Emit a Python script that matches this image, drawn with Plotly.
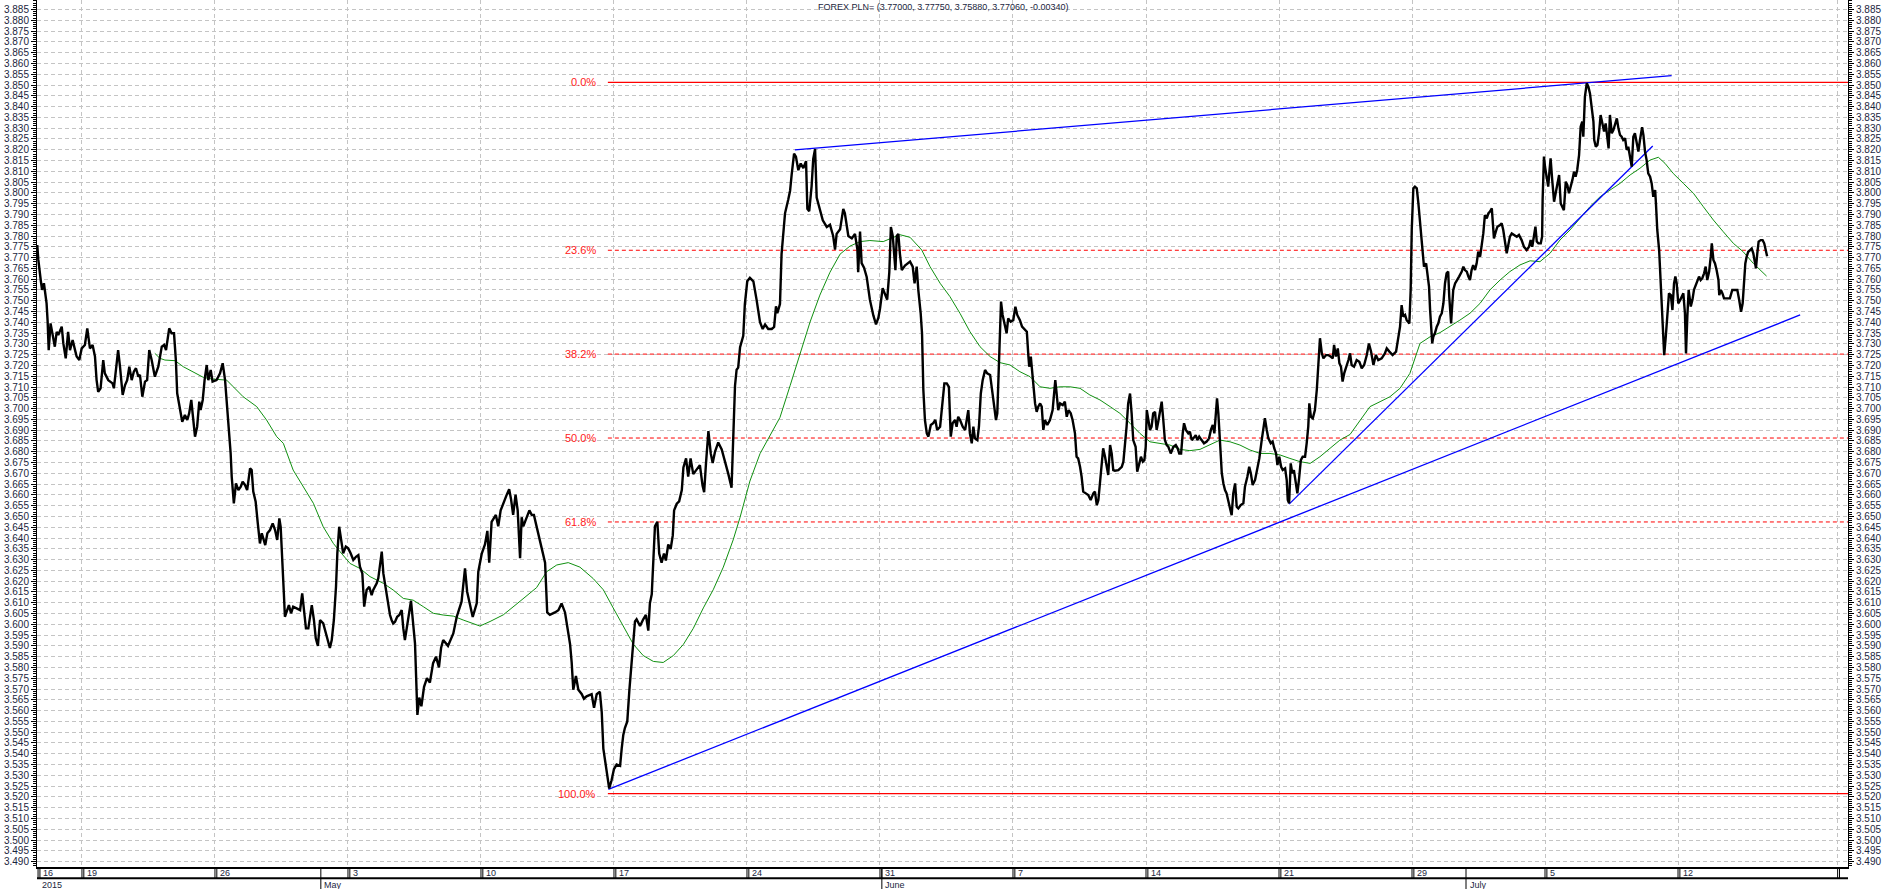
import plotly.graph_objects as go

# ---------------- data (x in trading days from the Apr-19 week start) ----------------
price_day = [
-1.68,-1.64,-1.55,-1.50,-1.43,-1.39,-1.33,-1.29,-1.25,-1.18,-1.10,-1.02,-0.95,-0.89,-0.76,-0.70,-0.61,-0.52,-0.45,-0.35,
-0.26,-0.20,-0.10,-0.01,0.11,0.20,0.30,0.40,0.49,0.55,0.61,0.70,0.80,0.86,0.99,1.15,1.20,1.28,1.36,1.43,
1.53,1.62,1.70,1.78,1.87,1.95,2.03,2.12,2.18,2.27,2.37,2.45,2.53,2.62,2.74,2.87,3.00,3.09,3.16,3.28,
3.37,3.46,3.53,3.58,3.68,3.77,3.87,3.96,4.03,4.11,4.16,4.25,4.33,4.41,4.46,4.54,4.61,4.69,4.75,4.84,
4.91,5.06,5.19,5.29,5.38,5.44,5.50,5.54,5.59,5.63,5.71,5.79,5.88,5.97,6.04,6.13,6.21,6.32,6.38,6.44,
6.53,6.61,6.69,6.76,6.82,6.89,6.97,7.07,7.17,7.26,7.34,7.42,7.47,7.55,7.59,7.63,7.70,7.78,7.86,7.94,
8.07,8.20,8.28,8.35,8.42,8.51,8.64,8.72,8.79,8.87,8.95,9.07,9.17,9.32,9.39,9.47,9.55,9.60,9.67,9.76,
9.82,9.92,10.01,10.10,10.20,10.30,10.39,10.45,10.54,10.61,10.70,10.80,10.89,10.95,11.08,11.14,11.20,11.27,11.33,11.43,
11.52,11.58,11.64,11.70,11.77,11.85,11.93,12.02,12.08,12.14,12.37,12.45,12.52,12.61,12.68,12.76,12.86,12.97,13.08,13.20,
13.31,13.42,13.50,13.58,13.76,13.96,14.09,14.27,14.40,14.48,14.59,14.69,14.84,14.90,15.03,15.15,15.24,15.31,15.40,15.56,
15.65,15.74,15.97,16.06,16.13,16.21,16.30,16.38,16.47,16.53,16.59,16.72,16.82,16.91,16.99,17.09,17.24,17.41,17.49,17.59,
17.78,17.91,18.03,18.16,18.24,18.35,18.41,18.47,18.57,18.66,18.79,18.87,18.97,19.16,19.25,19.35,19.47,19.54,19.60,19.70,
19.75,19.82,19.91,20.00,20.10,20.23,20.29,20.35,20.41,20.50,20.58,20.67,20.73,20.79,20.85,20.98,21.10,21.20,21.29,21.35,
21.42,21.48,21.54,21.63,21.70,21.79,21.88,21.95,22.04,22.13,22.21,22.26,22.36,22.45,22.55,22.61,22.71,22.79,22.88,22.98,
23.11,23.23,23.33,23.39,23.46,23.55,23.64,23.71,23.80,23.92,24.05,24.17,24.30,24.42,24.48,24.55,24.61,24.67,24.74,24.80,
24.86,24.92,25.01,25.11,25.24,25.36,25.49,25.59,25.68,25.80,25.93,26.02,26.09,26.14,26.24,26.30,26.36,26.43,26.55,26.62,
26.68,26.77,26.84,26.93,27.02,27.12,27.22,27.27,27.34,27.43,27.49,27.56,27.62,27.72,27.85,28.00,28.12,28.24,28.31,28.37,
28.50,28.62,28.68,28.81,28.94,29.06,29.15,29.18,29.25,29.31,29.40,29.50,29.62,29.75,29.85,29.94,30.00,30.10,30.19,30.27,
30.35,30.41,30.48,30.53,30.58,30.63,30.69,30.75,30.82,30.94,31.06,31.13,31.23,31.30,31.38,31.44,31.53,31.58,31.63,31.69,
31.76,31.82,31.91,32.00,32.08,32.15,32.26,32.34,32.42,32.51,32.59,32.66,32.73,32.82,32.88,32.94,33.01,33.11,33.20,33.26,
33.32,33.38,33.45,33.51,33.57,33.66,33.72,33.79,33.86,33.95,34.03,34.14,34.22,34.29,34.36,34.41,34.46,34.51,34.55,34.61,
34.67,34.76,34.82,34.91,35.01,35.09,35.16,35.26,35.34,35.45,35.52,35.58,35.61,35.67,35.71,35.76,35.83,35.89,35.95,36.02,
36.08,36.14,36.20,36.29,36.39,36.49,36.54,36.59,36.64,36.70,36.77,36.87,36.95,37.02,37.09,37.17,37.24,37.33,37.39,37.45,
37.52,37.58,37.64,37.73,37.83,37.92,38.02,38.08,38.15,38.21,38.27,38.33,38.39,38.46,38.52,38.58,38.65,38.71,38.77,38.83,
38.96,39.09,39.15,39.21,39.27,39.33,39.40,39.46,39.52,39.61,39.67,39.75,39.81,39.88,39.94,39.99,40.03,40.09,40.15,40.21,
40.27,40.34,40.40,40.46,40.53,40.59,40.65,40.71,40.78,40.84,40.93,41.03,41.12,41.19,41.25,41.32,41.38,41.43,41.50,41.59,
41.65,41.72,41.78,41.87,41.93,42.00,42.09,42.18,42.28,42.37,42.44,42.51,42.57,42.63,42.67,42.72,42.78,42.85,42.91,42.97,
43.03,43.09,43.16,43.22,43.28,43.35,43.41,43.47,43.56,43.66,43.72,43.81,43.88,43.94,44.01,44.10,44.18,44.26,44.35,44.41,
44.47,44.54,44.60,44.69,44.76,44.82,44.89,44.94,45.01,45.08,45.14,45.23,45.29,45.33,45.38,45.44,45.50,45.56,45.63,45.69,
45.75,45.82,45.89,45.98,46.04,46.10,46.14,46.20,46.27,46.35,46.42,46.48,46.54,46.61,46.67,46.77,46.85,46.94,47.02,47.07,
47.14,47.21,47.27,47.33,47.39,47.45,47.52,47.61,47.67,47.73,47.82,47.92,48.02,48.11,48.20,48.30,48.38,48.46,48.55,48.64,
48.73,48.86,48.98,49.05,49.15,49.27,49.40,49.48,49.55,49.61,49.67,49.74,49.80,49.90,49.95,49.99,50.05,50.11,50.18,50.24,
50.30,50.36,50.40,50.45,50.53,50.58,50.64,50.68,50.71,50.76,50.80,50.86,50.93,50.99,51.05,51.12,51.18,51.24,51.30,51.36,
51.40,51.47,51.50,51.55,51.62,51.68,51.77,51.87,51.93,51.99,52.06,52.12,52.18,52.24,52.30,52.37,52.43,52.49,52.56,52.62,
52.68,52.74,52.81,52.87,52.93,53.00,53.03,53.08,53.15,53.21,53.31,53.37,53.43,53.50,53.56,53.62,53.68,53.75,53.83,53.94,
54.02,54.12,54.21,54.31,54.40,54.46,54.52,54.59,54.64,54.69,54.75,54.84,54.89,54.91,54.96,55.00,55.06,55.12,55.16,55.21,
55.27,55.34,55.40,55.46,55.53,55.59,55.65,55.71,55.78,55.84,55.90,55.97,56.03,56.09,56.15,56.21,56.28,56.34,56.40,56.44,
56.50,56.57,56.63,56.69,56.76,56.82,56.85,56.91,56.97,57.03,57.09,57.15,57.22,57.28,57.34,57.39,57.44,57.51,57.57,57.63,
57.70,57.76,57.82,57.88,57.94,58.01,58.07,58.13,58.20,58.26,58.32,58.38,58.45,58.51,58.57,58.65,58.70,58.76,58.82,58.88,
58.95,59.01,59.07,59.14,59.17,59.22,59.29,59.35,59.40,59.45,59.48,59.54,59.60,59.66,59.73,59.79,59.85,59.90,59.95,60.01,
60.08,60.14,60.20,60.26,60.30,60.35,60.40,60.48,60.54,60.60,60.67,60.73,60.79,60.85,60.91,60.98,61.04,61.10,61.17,61.23,
61.27,61.33,61.39,61.45,61.52,61.55,61.61,61.67,61.73,61.83,61.95,62.04,62.14,62.23,62.30,62.37,62.43,62.48,62.53,62.58,
62.64,62.71,62.77,62.83,62.89,62.93,62.98,63.03,63.11,63.18,63.24,63.30,63.35]

price = [
3.7758,3.7689,3.7596,3.7550,3.7581,3.7542,3.7488,3.7403,3.7271,3.7395,3.7349,3.7287,3.7356,3.7341,3.7380,3.7302,3.7233,3.7356,3.7271,3.7318,
3.7271,3.7241,3.7225,3.7279,3.7295,3.7372,3.7279,3.7295,3.7241,3.7132,3.7078,3.7094,3.7225,3.7163,3.7132,3.7117,3.7094,3.7194,3.7271,3.7194,
3.7063,3.7109,3.7132,3.7194,3.7132,3.7171,3.7187,3.7148,3.7156,3.7055,3.7125,3.7132,3.7271,3.7225,3.7148,3.7194,3.7287,3.7295,3.7271,3.7372,
3.7349,3.7349,3.7225,3.7071,3.6993,3.6939,3.6970,3.6947,3.6978,3.7040,3.6978,3.6870,3.6916,3.7032,3.6993,3.7040,3.7132,3.7202,3.7132,3.7179,
3.7125,3.7132,3.7163,3.7210,3.7132,3.7040,3.6955,3.6901,3.6792,3.6684,3.6561,3.6653,3.6622,3.6638,3.6661,3.6646,3.6622,3.6723,3.6715,3.6615,
3.6568,3.6468,3.6375,3.6422,3.6398,3.6367,3.6422,3.6437,3.6468,3.6437,3.6391,3.6491,3.6452,3.6282,3.6143,3.6035,3.6066,3.6089,3.6051,3.6082,
3.6074,3.6066,3.6143,3.6051,3.5981,3.5981,3.6089,3.6020,3.5935,3.5900,3.6020,3.6004,3.5958,3.5890,3.5927,3.6020,3.6174,3.6329,3.6452,3.6375,
3.6329,3.6360,3.6352,3.6329,3.6298,3.6313,3.6321,3.6267,3.6236,3.6082,3.6159,3.6174,3.6135,3.6159,3.6190,3.6213,3.6267,3.6337,3.6236,3.6159,
3.6105,3.6043,3.6020,3.6004,3.6012,3.6035,3.6043,3.6066,3.5981,3.5927,3.6109,3.6004,3.5912,3.5580,3.5660,3.5620,3.5710,3.5750,3.5730,3.5820,
3.5850,3.5800,3.5890,3.5927,3.5900,3.5958,3.6035,3.6105,3.6259,3.6151,3.6097,3.6034,3.6097,3.6244,3.6328,3.6370,3.6433,3.6286,3.6475,3.6507,
3.6454,3.6528,3.6601,3.6626,3.6580,3.6507,3.6601,3.6528,3.6307,3.6496,3.6454,3.6496,3.6528,3.6507,3.6507,3.6454,3.6370,3.6286,3.6055,3.6044,
3.6055,3.6065,3.6097,3.6055,3.5992,3.5907,3.5823,3.5697,3.5760,3.5697,3.5676,3.5655,3.5666,3.5676,3.5613,3.5676,3.5687,3.5592,3.5424,3.5340,
3.5277,3.5239,3.5277,3.5329,3.5350,3.5344,3.5424,3.5487,3.5519,3.5550,3.5697,3.5823,3.5907,3.6013,3.6023,3.5992,3.6023,3.6044,3.5971,3.6097,
3.6139,3.6307,3.6454,3.6475,3.6328,3.6286,3.6328,3.6296,3.6370,3.6349,3.6412,3.6528,3.6559,3.6570,3.6622,3.6727,3.6769,3.6685,3.6769,3.6696,
3.6717,3.6738,3.6643,3.6612,3.6748,3.6896,3.6791,3.6748,3.6801,3.6843,3.6811,3.6759,3.6696,3.6633,3.6864,3.7106,3.7180,3.7190,3.7285,3.7306,
3.7337,3.7484,3.7590,3.7606,3.7590,3.7505,3.7400,3.7369,3.7390,3.7369,3.7369,3.7379,3.7474,3.7442,3.7484,3.7716,3.7810,3.7905,3.7968,3.8010,
3.8084,3.8182,3.8168,3.8105,3.8136,3.8115,3.8147,3.7926,3.7915,3.8031,3.8157,3.8203,3.7978,3.7936,3.7873,3.7842,3.7852,3.7800,3.7737,3.7810,
3.7831,3.7926,3.7905,3.7800,3.7789,3.7810,3.7737,3.7632,3.7821,3.7674,3.7653,3.7610,3.7505,3.7432,3.7390,3.7421,3.7463,3.7558,3.7526,3.7505,
3.7632,3.7842,3.7800,3.7737,3.7642,3.7800,3.7810,3.7716,3.7642,3.7663,3.7674,3.7681,3.7658,3.7581,3.7658,3.7550,3.7441,3.7349,3.7086,3.6947,
3.6885,3.6870,3.6924,3.6932,3.6947,3.6901,3.6916,3.7009,3.7117,3.7117,3.7101,3.6870,3.6932,3.6947,3.6916,3.6962,3.6947,3.6916,3.6901,3.6947,
3.6993,3.6885,3.6839,3.6916,3.6862,3.6854,3.6916,3.7070,3.7132,3.7179,3.7163,3.7156,3.7086,3.7009,3.6947,3.6978,3.7163,3.7441,3.7496,3.7434,
3.7395,3.7349,3.7418,3.7403,3.7410,3.7472,3.7434,3.7410,3.7380,3.7364,3.7356,3.7241,3.7194,3.7241,3.7179,3.7132,3.7024,3.6985,3.7009,3.7024,
3.7009,3.6901,3.6947,3.6924,3.6947,3.6993,3.7055,3.7132,3.7070,3.6993,3.7024,3.7016,3.7032,3.6962,3.6993,3.6978,3.6947,3.6885,3.6777,3.6769,
3.6730,3.6684,3.6615,3.6607,3.6599,3.6576,3.6607,3.6615,3.6553,3.6576,3.6653,3.6746,3.6816,3.6777,3.6730,3.6692,3.6831,3.6792,3.6715,3.6712,
3.6715,3.6730,3.6754,3.6823,3.6916,3.7024,3.7070,3.6978,3.6854,3.6823,3.6707,3.6746,3.6777,3.6754,3.6761,3.6823,3.6993,3.6947,3.6901,3.6916,
3.6978,3.6985,3.6901,3.6939,3.6993,3.7032,3.6947,3.6854,3.6831,3.6823,3.6792,3.6823,3.6831,3.6816,3.6792,3.6792,3.6885,3.6932,3.6901,3.6885,
3.6893,3.6854,3.6862,3.6877,3.6854,3.6870,3.6854,3.6839,3.6847,3.6862,3.6901,3.6924,3.6885,3.6978,3.7047,3.6978,3.6823,3.6700,3.6653,3.6622,
3.6607,3.6568,3.6537,3.6506,3.6607,3.6653,3.6545,3.6537,3.6553,3.6561,3.6638,3.6684,3.6730,3.6700,3.6646,3.6669,3.6715,3.6769,3.6854,3.6916,
3.6955,3.6901,3.6862,3.6839,3.6847,3.6816,3.6792,3.6738,3.6777,3.6730,3.6715,3.6723,3.6669,3.6576,3.6561,3.6746,3.6700,3.6715,3.6653,3.6607,
3.6669,3.6761,3.6777,3.6777,3.6839,3.6916,3.7024,3.6962,3.6955,3.6993,3.7086,3.7210,3.7326,3.7256,3.7233,3.7248,3.7248,3.7241,3.7233,3.7295,
3.7241,3.7279,3.7210,3.7194,3.7125,3.7163,3.7187,3.7225,3.7256,3.7202,3.7194,3.7225,3.7217,3.7187,3.7202,3.7248,3.7302,3.7264,3.7202,3.7248,
3.7225,3.7233,3.7256,3.7279,3.7264,3.7248,3.7264,3.7318,3.7380,3.7480,3.7426,3.7434,3.7410,3.7395,3.7550,3.7828,3.8021,3.8029,3.8021,3.7951,
3.7859,3.7781,3.7704,3.7658,3.7673,3.7627,3.7565,3.7457,3.7380,3.7302,3.7333,3.7349,3.7380,3.7395,3.7426,3.7442,3.7488,3.7580,3.7627,3.7635,
3.7519,3.7395,3.7457,3.7550,3.7580,3.7596,3.7612,3.7635,3.7658,3.7642,3.7635,3.7612,3.7596,3.7642,3.7665,3.7642,3.7673,3.7727,3.7704,3.7758,
3.7812,3.7897,3.7882,3.7905,3.7913,3.7928,3.7859,3.7789,3.7820,3.7843,3.7851,3.7859,3.7828,3.7766,3.7720,3.7758,3.7797,3.7812,3.7805,3.7797,
3.7805,3.7781,3.7750,3.7735,3.7750,3.7781,3.7750,3.7797,3.7843,3.7774,3.7766,3.7766,3.7797,3.7967,3.8168,3.8121,3.8075,3.8029,3.8090,3.8160,
3.8060,3.7959,3.7998,3.8044,3.8083,3.7951,3.7936,3.7920,3.8052,3.8036,3.7998,3.8029,3.8060,3.8098,3.8075,3.8106,3.8175,3.8307,3.8330,3.8260,
3.8446,3.8508,3.8492,3.8461,3.8392,3.8330,3.8245,3.8214,3.8222,3.8276,3.8361,3.8330,3.8284,3.8322,3.8260,3.8206,3.8361,3.8276,3.8291,3.8322,
3.8345,3.8299,3.8268,3.8260,3.8245,3.8253,3.8199,3.8214,3.8168,3.8121,3.8260,3.8276,3.8230,3.8191,3.8245,3.8304,3.8268,3.8191,3.8152,3.8090,
3.8075,3.8044,3.7982,3.8013,3.7951,3.7828,3.7735,3.7580,3.7442,3.7333,3.7248,3.7333,3.7442,3.7534,3.7526,3.7457,3.7580,3.7612,3.7580,3.7488,
3.7503,3.7519,3.7534,3.7442,3.7256,3.7426,3.7550,3.7473,3.7503,3.7550,3.7573,3.7596,3.7612,3.7596,3.7604,3.7627,3.7658,3.7596,3.7635,3.7704,
3.7766,3.7689,3.7673,3.7642,3.7596,3.7526,3.7550,3.7534,3.7511,3.7511,3.7511,3.7550,3.7550,3.7550,3.7503,3.7449,3.7488,3.7596,3.7673,3.7704,
3.7727,3.7735,3.7742,3.7720,3.7681,3.7650,3.7720,3.7774,3.7781,3.7781,3.7766,3.7735,3.7706]

ma_day = [
2.74,2.93,3.12,3.50,3.81,4.18,4.56,4.88,5.44,5.69,6.06,6.57,6.94,7.32,7.57,7.94,8.32,8.70,9.07,9.45,
9.70,10.08,10.45,10.83,11.33,11.70,12.08,12.45,12.83,13.21,13.58,13.96,14.33,14.71,14.96,15.34,15.84,16.47,17.09,17.47,
17.85,18.28,18.72,19.22,19.60,19.97,20.35,20.73,21.10,21.48,21.85,22.23,22.61,22.98,23.36,23.73,24.11,24.48,24.74,25.11,
25.49,25.86,26.24,26.62,26.99,27.37,27.74,28.12,28.50,28.87,29.25,29.62,30.12,30.44,30.75,31.13,31.57,31.88,32.26,32.63,
33.01,33.38,33.76,34.14,34.51,34.89,35.26,35.64,36.02,36.39,36.77,37.14,37.52,37.89,38.27,38.65,39.02,39.40,39.77,40.15,
40.53,40.90,41.28,41.65,42.03,42.41,42.78,43.16,43.53,43.91,44.29,44.66,45.04,45.41,45.79,46.17,46.54,46.92,47.29,47.67,
48.05,48.42,48.80,49.17,49.55,49.92,50.30,50.68,51.05,51.43,51.80,52.18,52.56,52.93,53.31,53.68,54.06,54.44,54.81,55.19,
55.56,55.94,56.32,56.69,57.07,57.44,57.82,58.20,58.57,58.95,59.26,59.51,59.82,60.20,60.58,60.95,61.33,61.70,62.08,62.45,
62.83,63.33]
ma = [
3.7256,3.7233,3.7225,3.7222,3.7194,3.7171,3.7145,3.7137,3.7132,3.7101,3.7055,3.7009,3.6947,3.6870,3.6839,3.6715,3.6638,3.6561,3.6452,3.6375,
3.6337,3.6282,3.6259,3.6221,3.6190,3.6159,3.6120,3.6112,3.6082,3.6051,3.6043,3.6038,3.6020,3.6004,3.5992,3.6013,3.6044,3.6107,3.6170,3.6244,
3.6275,3.6286,3.6265,3.6212,3.6160,3.6076,3.5992,3.5907,3.5855,3.5828,3.5823,3.5855,3.5907,3.5981,3.6076,3.6160,3.6265,3.6391,3.6496,3.6664,
3.6791,3.6875,3.6959,3.7106,3.7253,3.7401,3.7526,3.7632,3.7716,3.7753,3.7774,3.7779,3.7774,3.7789,3.7806,3.7794,3.7735,3.7658,3.7581,3.7519,
3.7441,3.7357,3.7287,3.7241,3.7213,3.7202,3.7171,3.7148,3.7101,3.7094,3.7101,3.7101,3.7094,3.7063,3.7040,3.7009,3.6978,3.6932,3.6885,3.6846,
3.6839,3.6831,3.6811,3.6805,3.6811,3.6831,3.6854,3.6846,3.6831,3.6808,3.6792,3.6792,3.6785,3.6769,3.6754,3.6746,3.6777,3.6816,3.6854,3.6880,
3.6947,3.7009,3.7032,3.7055,3.7094,3.7163,3.7302,3.7333,3.7352,3.7380,3.7410,3.7442,3.7488,3.7550,3.7596,3.7635,3.7666,3.7685,3.7681,3.7720,
3.7781,3.7828,3.7882,3.7936,3.7982,3.8013,3.8044,3.8083,3.8114,3.8152,3.8165,3.8137,3.8090,3.8044,3.7998,3.7936,3.7874,3.7820,3.7766,3.7727,
3.7673,3.7614]

# trend lines (day, price)
trend_top_day = [26.80, 59.76]
trend_top = [3.8199, 3.8543]
trend_base_day = [19.79, 64.59]
trend_base = [3.5235, 3.7434]
trend_short_day = [45.38, 59.05]
trend_short = [3.6557, 3.8217]

# Fibonacci retracement
fib_high = 3.8512
fib_low = 3.5215
fib_pcts = [0.0, 23.6, 38.2, 50.0, 61.8, 100.0]
fib_labels = ["0.0%", "23.6%", "38.2%", "50.0%", "61.8%", "100.0%"]
fib_start_day = 19.77
fib_label_day = 19.40

# axes
x_range = [-1.69, 66.39]
y_range = [3.4875, 3.8894]
week_days = [-1.65, 0, 5, 10, 15, 20, 25, 30, 35, 40, 45, 50, 55, 60, 66]
week_labels = ["16", "19", "26", "3", "10", "17", "24", "31", "7", "14", "21", "29", "5", "12", ""]
month_days = [-1.65, 8.98, 30.07, 52.03]
month_labels = ["2015", "May", "June", "July"]
title_text = "FOREX PLN= (3.77000, 3.77750, 3.75880, 3.77060, -0.00340)"

# ---------------- figure ----------------
W, H = 1883, 889
ML, MR, MT, MB = 37, 35, 0, 22
plot_h = H - MT - MB
band1 = -11.3 / plot_h
band2 = -22.0 / plot_h

fig = go.Figure()

grid_color = "#c4c4c4"
txt_color = "#1b2640"

for pct, lab in zip(fib_pcts, fib_labels):
    lvl = fib_high - (fib_high - fib_low) * pct / 100.0
    solid = pct in (0.0, 100.0)
    fig.add_trace(go.Scatter(
        x=[fib_start_day, x_range[1]], y=[lvl, lvl], mode="lines",
        line=dict(color="#ff0000", width=1.2 if solid else 1, dash="solid" if solid else "4px,3px"),
        hoverinfo="skip", showlegend=False))
    fig.add_annotation(x=fib_label_day, y=lvl, xref="x", yref="y", text=lab,
                       showarrow=False, xanchor="right", yanchor="middle",
                       font=dict(family="Arial", size=11, color="#ff2020"))

fig.add_trace(go.Scatter(x=ma_day, y=ma, mode="lines",
                         line=dict(color="#109010", width=1), hoverinfo="skip", showlegend=False))

for xs, ys in [(trend_top_day, trend_top), (trend_base_day, trend_base), (trend_short_day, trend_short)]:
    fig.add_trace(go.Scatter(x=xs, y=ys, mode="lines",
                             line=dict(color="#0000ff", width=1.3), hoverinfo="skip", showlegend=False))

fig.add_trace(go.Scatter(x=price_day, y=price, mode="lines",
                         line=dict(color="#000000", width=2.4), hoverinfo="skip", showlegend=False))

# dummy trace for the right axis
fig.add_trace(go.Scatter(x=[price_day[-1]], y=[price[-1]], yaxis="y2", mode="markers",
                         marker=dict(opacity=0), hoverinfo="skip", showlegend=False))

yax = dict(range=y_range, tickmode="linear", tick0=3.49, dtick=0.005, tickformat=".3f",
           ticks="outside", ticklen=5, tickwidth=1, tickcolor="black",
           showline=True, linecolor="black", linewidth=1, zeroline=False,
           tickfont=dict(family="Arial", size=10, color=txt_color),
           minor=dict(tickmode="linear", tick0=3.49, dtick=0.001, ticks="outside", ticklen=3,
                      tickcolor="black", tickwidth=1, showgrid=False),
           fixedrange=True)

fig.update_layout(
    width=W, height=H,
    margin=dict(l=ML, r=MR, t=MT, b=MB, pad=0),
    paper_bgcolor="white", plot_bgcolor="white",
    showlegend=False,
    xaxis=dict(range=x_range, tickmode="array", tickvals=week_days[1:], showticklabels=False,
               ticks="", showgrid=True, gridcolor=grid_color, griddash="4px,3px", gridwidth=1,
               showline=True, linecolor="black", linewidth=2, zeroline=False, fixedrange=True),
    yaxis=dict(**yax, side="left", showgrid=True, gridcolor=grid_color, griddash="4px,3px", gridwidth=1),
    yaxis2=dict(**yax, side="right", overlaying="y", showgrid=False),
)

# date bands below the plot
shapes = []
shapes.append(dict(type="line", xref="paper", yref="paper", x0=0, x1=1, y0=band1, y1=band1,
                   line=dict(color="black", width=2)))
for d in week_days:
    for off in (0.0, 0.07):
        shapes.append(dict(type="line", xref="x", yref="paper", x0=d + off, x1=d + off,
                           y0=0, y1=band1, line=dict(color="black", width=1)))
for d in month_days[1:]:
    shapes.append(dict(type="line", xref="x", yref="paper", x0=d, x1=d, y0=0, y1=band2,
                       line=dict(color="black", width=1)))
fig.update_layout(shapes=shapes)

for d, lab in zip(week_days, week_labels):
    if lab:
        fig.add_annotation(x=d + 0.1, y=0, xref="x", yref="paper", yshift=-6, text=lab,
                           showarrow=False, xanchor="left", yanchor="middle",
                           font=dict(family="Arial", size=9, color=txt_color))
for d, lab in zip(month_days, month_labels):
    fig.add_annotation(x=d + 0.06, y=0, xref="x", yref="paper", yshift=-17.5, text=lab,
                       showarrow=False, xanchor="left", yanchor="middle",
                       font=dict(family="Arial", size=9, color=txt_color))

fig.add_annotation(x=0.5, y=1, xref="paper", yref="paper", yshift=-7, text=title_text,
                   showarrow=False, xanchor="center", yanchor="middle",
                   font=dict(family="Arial", size=9, color=txt_color))

fig.write_html("out.html")
